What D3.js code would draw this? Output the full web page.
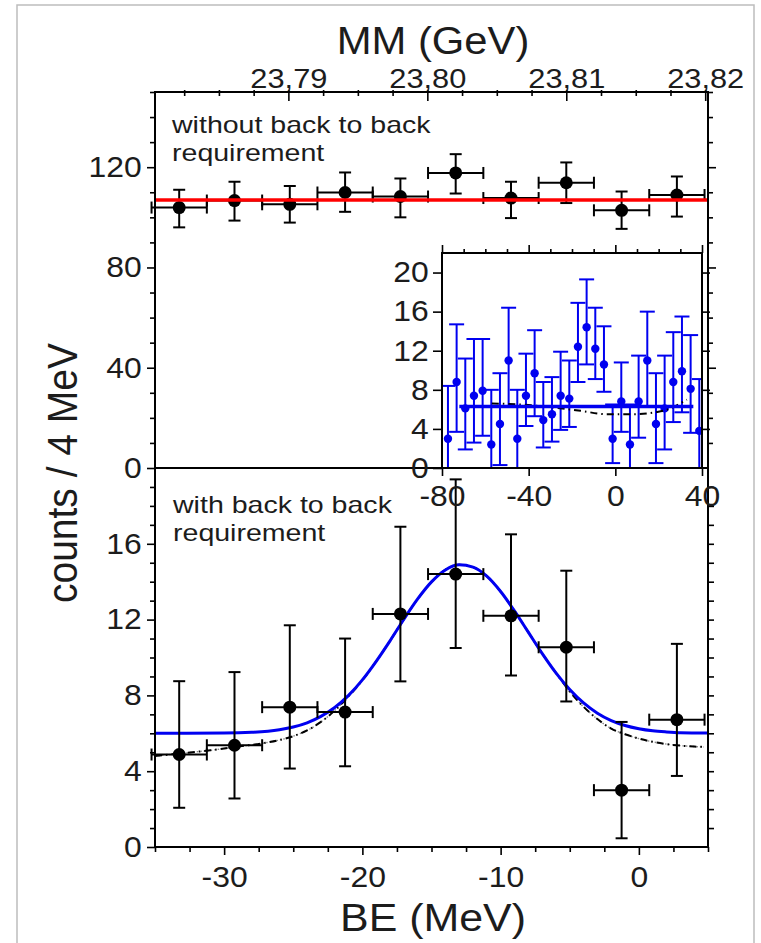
<!DOCTYPE html>
<html>
<head>
<meta charset="utf-8">
<script src="https://cdn.jsdelivr.net/npm/d3@7"></script>
<style>
  body { margin: 0; background: #fff; }
  svg text { font-family: "Liberation Sans", Arial, sans-serif; fill: #1c1c1c; }
</style>
</head>
<body>
<svg id="chart" width="761" height="943"></svg>
<script>
// ---- data ----
const binBE = [-33.25, -29.25, -25.25, -21.25, -17.25, -13.25, -9.25, -5.25, -1.25, 2.75];
const binHalf = 2;

// upper panel: without back-to-back requirement
const topCounts = [103.9, 106.7, 105.2, 109.9, 108.3, 117.7, 107.7, 113.8, 102.8, 108.9];
const topHi     = [111.0, 114.2, 112.5, 117.9, 115.5, 125.2, 114.2, 121.9, 110.3, 116.3];
const topLo     = [96.0, 98.7, 97.9, 102.2, 100.0, 109.5, 99.7, 105.7, 95.4, 100.3];
const topFitLevel = 106.9;

// lower panel: with back-to-back requirement
const botCounts = [4.88, 5.37, 7.38, 7.12, 12.3, 14.4, 12.2, 10.54, 3.0, 6.72];
const botHi     = [8.75, 9.23, 11.7, 11.0, 16.9, 19.4, 16.5, 14.58, 6.6, 10.72];
const botLo     = [2.07, 2.56, 4.14, 4.26, 8.74, 10.5, 9.05, 7.68, 0.46, 3.75];

// fit curves in lower panel
const blueFitBE  = [-35, -30, -28, -26, -25, -24, -23, -22, -21, -20, -19, -18, -17, -16, -15, -14, -13, -12, -11, -10, -9, -8, -7, -6, -5, -4, -3, -2, -1, 0, 1, 2, 3, 5];
const blueFitVal = [6.0, 6.01, 6.05, 6.19, 6.33, 6.55, 6.89, 7.36, 8.0, 8.82, 9.8, 10.88, 12.02, 13.09, 13.99, 14.62, 14.89, 14.77, 14.29, 13.48, 12.46, 11.34, 10.22, 9.19, 8.31, 7.6, 7.06, 6.67, 6.41, 6.24, 6.13, 6.07, 6.03, 6.01];
const blackFitBE  = [-35, -33, -31, -29, -27, -25, -24, -23, -22, -21, -20, -19, -18, -17, -16, -15, -14, -13, -12, -11, -10, -9, -8, -7, -6, -5, -4, -3, -2, -1, 0, 1, 2, 3, 4, 4.7];
const blackFitVal = [4.8, 4.95, 5.1, 5.3, 5.5, 5.85, 6.15, 6.6, 7.2, 7.95, 8.8, 9.8, 10.88, 12.02, 13.09, 13.99, 14.62, 14.89, 14.77, 14.29, 13.48, 12.46, 11.34, 10.22, 9.19, 8.2, 7.4, 6.75, 6.25, 5.95, 5.72, 5.55, 5.43, 5.35, 5.3, 5.28];

// inset: wide range spectrum
const insetBE = [-77.25, -73.25, -69.25, -65.25, -61.25, -57.25, -53.25, -49.25, -45.25, -41.25, -37.25, -33.25, -29.25, -25.25, -21.25, -17.25, -13.25, -9.25, -5.25, -1.25, 2.75, 6.75, 10.75, 14.75, 18.75, 22.75, 26.75, 30.75, 34.75, 38.75];
const insetCounts = [3.0, 8.8, 6.1, 7.4, 7.9, 2.4, 4.5, 11.0, 3.0, 7.4, 9.7, 4.9, 5.5, 7.4, 7.1, 12.4, 14.4, 12.2, 10.6, 3.0, 6.8, 2.4, 6.8, 11.0, 4.5, 6.1, 8.8, 9.9, 8.1, 3.8];
const insetHi = [8.4, 14.7, 11.2, 13.2, 13.2, 8.0, 9.7, 16.4, 8.0, 11.7, 14.1, 8.8, 9.3, 11.9, 11.0, 16.9, 19.3, 16.4, 14.5, 6.5, 10.8, 6.5, 11.5, 16.0, 9.7, 11.5, 13.9, 15.5, 13.6, 9.1];
const insetLo = [0, 3.7, 1.9, 2.6, 3.3, 0, 0.3, 6.3, 0, 4.3, 5.3, 2.1, 2.7, 3.9, 4.2, 8.8, 10.6, 9.1, 7.8, 0.5, 3.7, 0, 3.1, 6.3, 0.5, 1.9, 4.7, 5.7, 3.6, 0];
const insetBlueBE = [-72, 36];
const insetBlueVal = [6.3, 6.3];
const insetBlackBE = [-57, -44, -29, -16, -4, 8, 22, 33];
const insetBlackVal = [6.6, 6.5, 6.2, 5.85, 5.5, 5.5, 5.85, 7.0];

// tick labels
const topYTicks = [0, 40, 80, 120];
const botYTicks = [0, 4, 8, 12, 16];
const beTicks = [-30, -20, -10, 0];
const mmTicks = [23.79, 23.80, 23.81, 23.82];
const inYTicks = [0, 4, 8, 12, 16, 20];
const inXTicks = [-80, -40, 0, 40];

// ---- layout ----
const svg = d3.select("#chart");
const FONT = "Liberation Sans, Arial, sans-serif";
const STRETCH = "scale(1.1,1)";
const blue = "#0000f0", red = "#ff0000";

const x = d3.scaleLinear().domain([-35, 5]).range([155, 708]);
const xMM = d3.scaleLinear().domain([23.7804, 23.8202]).range([155, 708]);
const yTop = d3.scaleLinear().domain([0, 150]).range([468, 92]);
const yBot = d3.scaleLinear().domain([0, 20]).range([847, 468]);
const xIn = d3.scaleLinear().domain([-80, 40]).range([442, 702]);
const yIn = d3.scaleLinear().domain([0, 22]).range([468, 253]);

// grey outer frame
svg.append("rect").attr("x", 17).attr("y", 5).attr("width", 737).attr("height", 960)
  .attr("fill", "none").attr("stroke", "#bdbdbd").attr("stroke-width", 1.5);

function putAxis(axis, tx, ty, fs) {
  const g = svg.append("g").attr("transform", "translate(" + tx + "," + ty + ")").call(axis);
  g.select(".domain").remove();
  g.attr("font-size", fs || 29).attr("font-family", FONT);
  g.selectAll("line").attr("stroke", "#000").attr("stroke-width", 1.6);
  g.selectAll("text").attr("fill", "#1c1c1c").attr("transform", STRETCH);
  return g;
}
const fmtMinus = d => String(d).replace("\u2212", "-");

function drawBars(g, xs, ys, lo, hi, xs_, ys_, cap, hcap, color, lw, withH) {
  xs.forEach((b, i) => {
    const cx = xs_(b), cy = ys_(ys[i]);
    g.append("line").attr("x1", cx).attr("x2", cx).attr("y1", ys_(lo[i])).attr("y2", ys_(hi[i]))
      .attr("stroke", color).attr("stroke-width", lw);
    [lo[i], hi[i]].forEach(v => {
      g.append("line").attr("x1", cx - cap).attr("x2", cx + cap).attr("y1", ys_(v)).attr("y2", ys_(v))
        .attr("stroke", color).attr("stroke-width", lw);
    });
    if (withH) {
      const xl = xs_(b - binHalf), xr = xs_(b + binHalf);
      g.append("line").attr("x1", xl).attr("x2", xr).attr("y1", cy).attr("y2", cy)
        .attr("stroke", color).attr("stroke-width", lw);
      [xl, xr].forEach(xx => {
        g.append("line").attr("x1", xx).attr("x2", xx).attr("y1", cy - hcap).attr("y2", cy + hcap)
          .attr("stroke", color).attr("stroke-width", lw);
      });
    }
  });
}

function note(tx, ty, str) {
  svg.append("g").attr("transform", "translate(" + tx + "," + ty + ") scale(1.19,1)").append("text")
    .attr("font-size", 24).text(str);
}

// ---- upper panel ----
const gTop = svg.append("g");
drawBars(gTop, binBE, topCounts, topLo, topHi, x, yTop, 6, 6, "#000", 2, true);
gTop.selectAll("circle.p").data(binBE).join("circle")
  .attr("cx", d => x(d)).attr("cy", (d, i) => yTop(topCounts[i])).attr("r", 6.5).attr("fill", "#000");
gTop.append("line").attr("x1", x(-35)).attr("x2", x(5)).attr("y1", yTop(topFitLevel)).attr("y2", yTop(topFitLevel))
  .attr("stroke", red).attr("stroke-width", 3.5);

note(172, 133, "without back to back");
note(172, 161, "requirement");

// ---- lower panel ----
const gBot = svg.append("g");
const fitLine = d3.line().x(d => x(d[0])).y(d => yBot(d[1])).curve(d3.curveMonotoneX);
const blackPts = blackFitBE.map((b, i) => [b, blackFitVal[i]]);
gBot.append("path").attr("d", fitLine(blackPts)).attr("fill", "none")
  .attr("stroke", "#8a8a8a").attr("stroke-width", 1.4).attr("stroke-dasharray", "1.5,2");
gBot.append("path").attr("d", fitLine(blackPts)).attr("fill", "none")
  .attr("stroke", "#000").attr("stroke-width", 2).attr("stroke-dasharray", "7,4,1.5,4");
gBot.append("path").attr("d", fitLine(blueFitBE.map((b, i) => [b, blueFitVal[i]]))).attr("fill", "none")
  .attr("stroke", blue).attr("stroke-width", 3);
drawBars(gBot, binBE, botCounts, botLo, botHi, x, yBot, 6, 6, "#000", 2, true);
gBot.selectAll("circle.p").data(binBE).join("circle")
  .attr("cx", d => x(d)).attr("cy", (d, i) => yBot(botCounts[i])).attr("r", 6.5).attr("fill", "#000");

note(173, 513, "with back to back");
note(173, 541, "requirement");

// ---- main axes ----
putAxis(d3.axisLeft(yTop).tickValues(d3.range(0, 151, 10).filter(v => v % 40)).tickSize(5).tickFormat(""), 155, 0);
putAxis(d3.axisLeft(yTop).tickValues(topYTicks).tickSize(8).tickPadding(4), 155, 0);
putAxis(d3.axisRight(yTop).tickValues(d3.range(10, 151, 10).filter(v => v % 40)).tickSize(5).tickFormat(""), 708, 0);
putAxis(d3.axisRight(yTop).tickValues(topYTicks.slice(1)).tickSize(8).tickFormat(""), 708, 0);
putAxis(d3.axisLeft(yBot).tickValues(d3.range(1, 20).filter(v => v % 4)).tickSize(5).tickFormat(""), 155, 0);
putAxis(d3.axisLeft(yBot).tickValues(botYTicks.slice(1)).tickSize(8).tickPadding(4), 155, 0);
putAxis(d3.axisLeft(yBot).tickValues([0]).tickSize(8).tickPadding(4), 155, 0);
putAxis(d3.axisRight(yBot).tickValues(d3.range(1, 20)).tickSize(6).tickFormat(""), 708, 0);
putAxis(d3.axisBottom(x).tickValues(d3.range(-35, 5.1, 2.5).filter(v => v % 10 !== 0)).tickSize(5).tickFormat(""), 0, 847);
putAxis(d3.axisBottom(x).tickValues(beTicks).tickSize(8).tickPadding(11).tickFormat(d => fmtMinus(d3.format("d")(d))), 0, 847);
const mmMinor = putAxis(d3.axisTop(xMM).tickValues([23.7825, 23.785, 23.7875, 23.7925, 23.795, 23.7975, 23.8025, 23.805, 23.8075, 23.8125, 23.815, 23.8175]).tickSize(2).tickFormat(""), 0, 92);
mmMinor.selectAll("line").attr("y2", 4).attr("y1", -2);
const mmMajor = putAxis(d3.axisTop(xMM).tickValues(mmTicks).tickSize(-9).tickPadding(4).tickFormat(d => d3.format(".2f")(d).replace(".", ",")), 0, 92, 28);
mmMajor.selectAll("line").attr("y1", -2);

const frame = svg.append("g").attr("stroke", "#000").attr("stroke-width", 2).attr("fill", "none");
frame.append("rect").attr("x", 155).attr("y", 92).attr("width", 553).attr("height", 755);
frame.append("line").attr("x1", 155).attr("x2", 708).attr("y1", 468).attr("y2", 468);

// ---- inset ----
const gIn = svg.append("g");
gIn.append("rect").attr("x", 442).attr("y", 253).attr("width", 260).attr("height", 215).attr("fill", "#fff");
gIn.append("clipPath").attr("id", "inclip").append("rect").attr("x", 442).attr("y", 253).attr("width", 260).attr("height", 215);
const gInData = gIn.append("g").attr("clip-path", "url(#inclip)");
drawBars(gInData, insetBE, insetCounts, insetLo, insetHi, xIn, yIn, 7.5, 0, blue, 2, false);
gInData.selectAll("circle.p").data(insetBE).join("circle")
  .attr("cx", d => xIn(d)).attr("cy", (d, i) => yIn(insetCounts[i])).attr("r", 4.2).attr("fill", blue);
const inLine = d3.line().x(d => xIn(d[0])).y(d => yIn(d[1])).curve(d3.curveMonotoneX);
gInData.append("path").attr("d", inLine(insetBlackBE.map((b, i) => [b, insetBlackVal[i]]))).attr("fill", "none")
  .attr("stroke", "#000").attr("stroke-width", 2).attr("stroke-dasharray", "7,4,1.5,4");
gInData.append("path").attr("d", inLine(insetBlueBE.map((b, i) => [b, insetBlueVal[i]]))).attr("fill", "none")
  .attr("stroke", blue).attr("stroke-width", 3.5);

putAxis(d3.axisLeft(yIn).tickValues(inYTicks).tickSize(9).tickPadding(3), 442, 0);
putAxis(d3.axisRight(yIn).tickValues(inYTicks.slice(1)).tickSize(8).tickFormat(""), 702, 0);
putAxis(d3.axisTop(xIn).tickValues(d3.range(-70, 40, 10).filter(v => v % 40)).tickSize(4).tickFormat(""), 0, 253);
putAxis(d3.axisTop(xIn).tickValues(inXTicks).tickSize(8).tickFormat(""), 0, 253);
putAxis(d3.axisBottom(xIn).tickValues(inXTicks).tickSize(8).tickPadding(9).tickFormat(d => fmtMinus(d3.format("d")(d))), 0, 468);
gIn.append("rect").attr("x", 442).attr("y", 253).attr("width", 260).attr("height", 215)
  .attr("fill", "none").attr("stroke", "#000").attr("stroke-width", 2);

// ---- axis titles ----
svg.append("g").attr("transform", "translate(433,54) " + STRETCH).append("text")
  .attr("font-size", 38).attr("text-anchor", "middle").text("MM (GeV)");
svg.append("g").attr("transform", "translate(433,931) " + STRETCH).append("text")
  .attr("font-size", 39).attr("text-anchor", "middle").text("BE (MeV)");
svg.append("g").attr("transform", "translate(77,473) " + STRETCH + " rotate(-90)").append("text")
  .attr("font-size", 39).attr("text-anchor", "middle").text("counts / 4 MeV");
</script>
</body>
</html>
